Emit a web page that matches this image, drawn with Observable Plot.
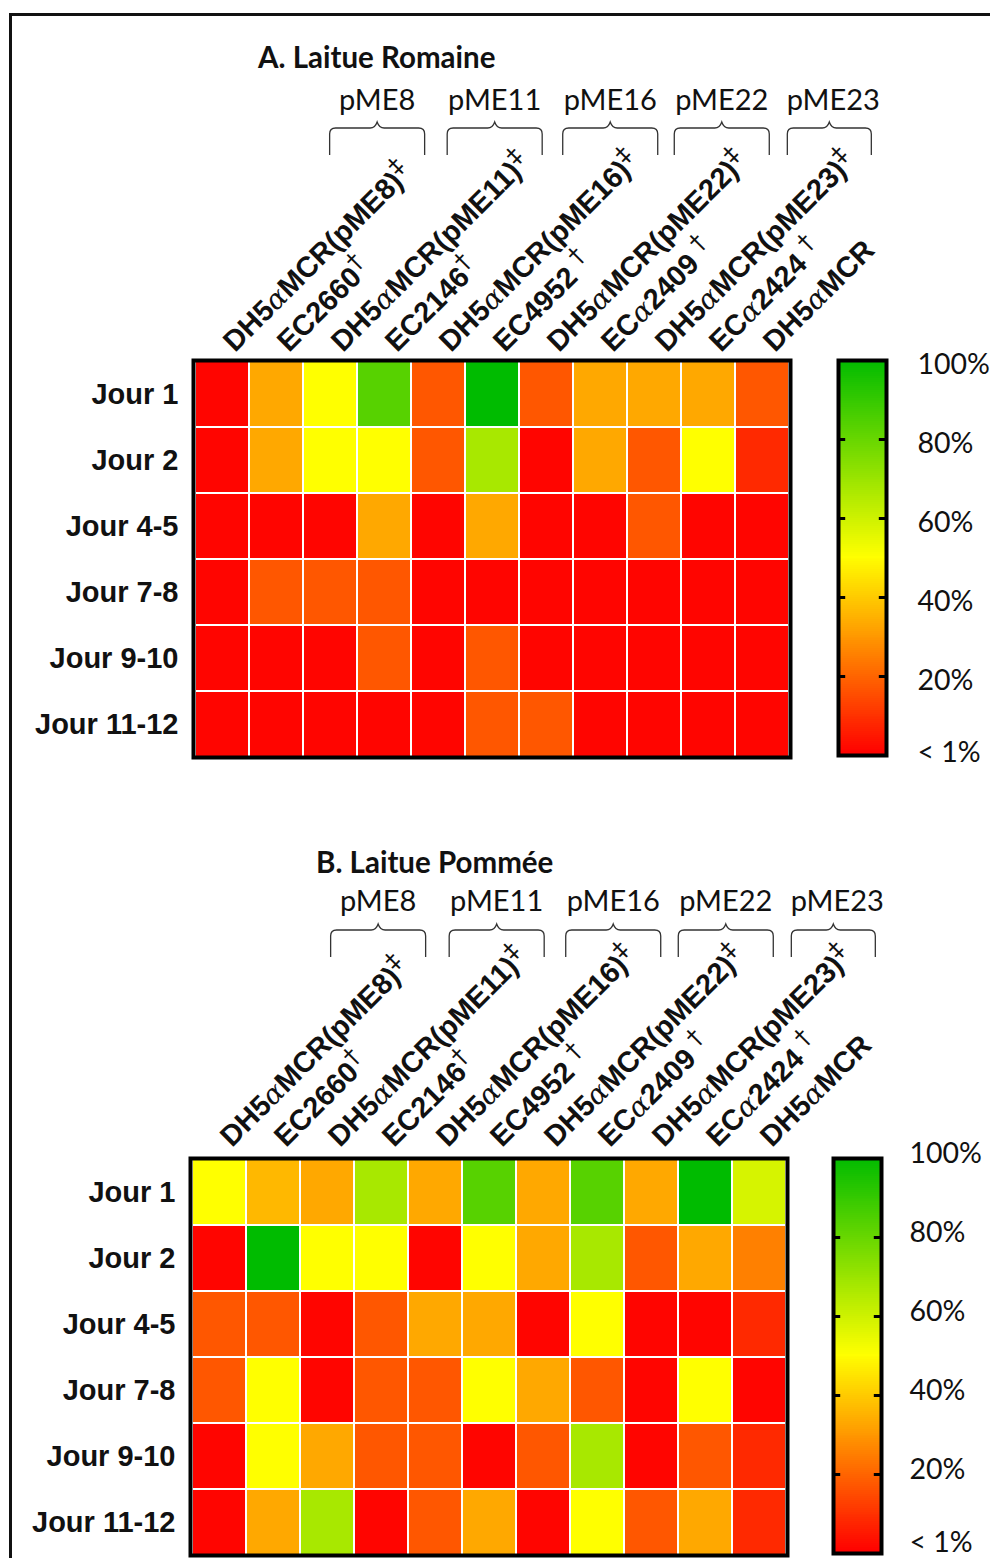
<!DOCTYPE html>
<html><head><meta charset="utf-8">
<script src="https://cdn.jsdelivr.net/npm/d3@7"></script>
<script src="https://cdn.jsdelivr.net/npm/@observablehq/plot@0.6"></script>
<style>
body{margin:0;background:#fff;}
#root{position:relative;width:990px;height:1558px;overflow:hidden;background:#fff;}
.frame{position:absolute;left:9px;top:13px;width:1010px;height:1620px;border:3px solid #111;box-sizing:border-box;}
.title{position:absolute;font-family:Lato,"Open Sans",sans-serif;font-weight:bold;font-size:29.5px;color:#111;line-height:30px;white-space:nowrap;}
.abs{position:absolute;}
</style></head><body><div id="root"><div class="frame"></div></div>
<script>
// ---- data ----
const strains = ["DH5αMCR(pME8)‡","EC2660†","DH5αMCR(pME11)‡","EC2146†","DH5αMCR(pME16)‡","EC4952 †","DH5αMCR(pME22)‡","ECα2409 †","DH5αMCR(pME23)‡","ECα2424 †","DH5αMCR"];
const days = ["Jour 1","Jour 2","Jour 4-5","Jour 7-8","Jour 9-10","Jour 11-12"];
const plasmids = ["pME8","pME11","pME16","pME22","pME23"];
const titles = ["A. Laitue Romaine","B. Laitue Pommée"];
// % survival per day (rows) and strain (columns)
const romaine = [
  [1, 33, 50, 83, 17, 100, 17, 33, 33, 33, 17],
  [1, 33, 50, 50, 17, 67, 1, 33, 17, 50, 8],
  [1, 1, 1, 33, 1, 33, 1, 1, 17, 1, 1],
  [1, 17, 17, 17, 1, 1, 1, 1, 1, 1, 1],
  [1, 1, 1, 17, 1, 17, 1, 1, 1, 1, 1],
  [1, 1, 1, 1, 1, 17, 17, 1, 1, 1, 1]
];
const pommee = [
  [50, 36, 33, 67, 33, 83, 33, 83, 33, 100, 58],
  [1, 100, 50, 50, 1, 50, 33, 67, 17, 33, 25],
  [17, 17, 1, 17, 33, 33, 1, 50, 1, 1, 8],
  [17, 50, 1, 17, 17, 50, 33, 17, 1, 50, 1],
  [1, 50, 33, 17, 17, 1, 17, 67, 1, 17, 8],
  [1, 33, 67, 1, 17, 33, 1, 50, 17, 33, 8]
];
const legendTicks = [100, 80, 60, 40, 20];
const legendLabels = ["100%", "80%", "60%", "40%", "20%"];
const legendBottom = [0];
const legendBottomLabel = ["< 1%"];
const innerTicks = [20, 40, 60, 80];

// ---- styling ----
const colorScale = {type: "linear", domain: [0, 50, 100], range: ["#ff0000", "#ffff00", "#00bb00"], interpolate: "rgb"};
const sansBold = '"Liberation Sans", Arial, sans-serif';
const calibri = 'Lato, "Open Sans", sans-serif';

const root = document.getElementById("root");

function heatmap(values, cfg) {
  const data = [];
  days.forEach((d, i) => strains.forEach((s, j) => data.push({day: d, strain: s, v: values[i][j]})));
  const plot = Plot.plot({
    width: 800, height: 762, marginLeft: 193, marginRight: 10, marginTop: 360, marginBottom: 5,
    style: {fontFamily: sansBold, background: "transparent", color: "#111", overflow: "visible"},
    x: {domain: strains, padding: 0, axis: null},
    y: {domain: days, padding: 0, label: null},
    color: colorScale,
    marks: [
      Plot.cell(data, {x: "strain", y: "day", fill: "v", inset: 1}),
      Plot.frame({stroke: "#000", strokeWidth: 4}),
      Plot.axisY({tickSize: 0, tickPadding: 15, fontSize: 29, fontWeight: "bold", fill: "#111", label: null}),
      Plot.text(strains, {x: d => d, text: d => d, frameAnchor: "top", dx: -2, dy: cfg.colDy, rotate: -45,
        textAnchor: "start", fontSize: 29, fontWeight: "bold", fill: "#111", className: "collab"})
    ]
  });
  // rich text for column labels: serif italic alpha, superscript daggers
  d3.select(plot).selectAll(".collab text").each(function() {
    const s = this.textContent;
    const el = d3.select(this);
    el.text(null);
    const last = s.slice(-1);
    const sup = (last === "‡" || last === "†") ? last : null;
    const body = sup ? s.slice(0, -1) : s;
    body.split("α").forEach((p, i) => {
      if (i > 0) el.append("tspan").attr("font-family", '"DejaVu Serif", serif').attr("font-style", "italic")
        .attr("font-weight", "normal").attr("font-size", 28).text("α");
      if (p) el.append("tspan").text(p);
    });
    if (sup) el.append("tspan").attr("font-family", '"DejaVu Sans", sans-serif').attr("font-size", 24)
      .attr("font-weight", "normal").attr("dy", "-0.45em").text(sup);
  });
  // plasmid groups with braces
  const xs = plot.scale("x");
  const band = d3.scaleBand(xs.domain, xs.range).padding(0);
  const bw = band.bandwidth();
  const svg = d3.select(plot);
  const g = svg.append("g");
  plasmids.forEach((p, k) => {
    const cx = band(strains[2 * k]) + bw / 2 + cfg.shifts[k];
    const w = cfg.half[k];
    const T = cfg.braceY, B = T + 27;
    const path = `M${cx - w},${B} L${cx - w},${T + 6} Q${cx - w},${T} ${cx - w + 6},${T} L${cx - 7},${T} Q${cx - 2},${T} ${cx},${T - 6} Q${cx + 2},${T} ${cx + 7},${T} L${cx + w - 6},${T} Q${cx + w},${T} ${cx + w},${T + 6} L${cx + w},${B}`;
    g.append("path").attr("d", path).attr("fill", "none").attr("stroke", "#333").attr("stroke-width", 1.3);
    g.append("text").attr("x", cx + (k === 4 ? 4 : 0)).attr("y", cfg.labelY).attr("text-anchor", "middle")
      .attr("font-family", calibri).attr("font-size", 29).attr("font-weight", "normal").attr("fill", "#111").text(p);
  });
  plot.classList.add("abs");
  plot.style.left = cfg.left + "px";
  plot.style.top = cfg.top + "px";
  root.appendChild(plot);
}

function colorbar(cfg) {
  const steps = d3.range(0, 100, 0.5);
  const plot = Plot.plot({
    width: 165, height: 405, marginLeft: 4, marginRight: 113, marginTop: 4, marginBottom: 6,
    x: {domain: [0, 1], axis: null}, y: {domain: [0, 100], axis: null},
    color: colorScale,
    style: {fontFamily: calibri, background: "transparent", overflow: "visible"},
    marks: [
      Plot.rect(steps, {x1: 0, x2: 1, y1: d => d, y2: d => Math.min(100, d + 0.7), fill: d => d, shapeRendering: "crispEdges"}),
      Plot.ruleY(innerTicks, {x1: 0, x2: 0.15, stroke: "#000", strokeWidth: 3}),
      Plot.ruleY(innerTicks, {x1: 0.85, x2: 1, stroke: "#000", strokeWidth: 3}),
      Plot.frame({stroke: "#000", strokeWidth: 4}),
      Plot.text(legendTicks, {x: 1, y: d => d, text: (d, i) => legendLabels[i], dx: cfg.labelDx, dy: cfg.labelDy,
        textAnchor: "start", fontSize: 28.5, fill: "#111"}),
      Plot.text(legendBottom, {x: 1, y: d => d, text: (d, i) => legendBottomLabel[i], dx: cfg.labelDx, dy: cfg.bottomDy,
        textAnchor: "start", fontSize: 28.5, fill: "#111"})
    ]
  });
  plot.classList.add("abs");
  plot.style.left = cfg.left + "px";
  plot.style.top = cfg.top + "px";
  root.appendChild(plot);
}

function title(text, left, top) {
  const d = document.createElement("div");
  d.className = "title";
  d.textContent = text;
  d.style.left = left + "px";
  d.style.top = top + "px";
  root.appendChild(d);
}

title(titles[0], 258, 42);
heatmap(romaine, {left: 0, top: 0, colDy: -22, shifts: [157, 166, 173, 176, 175], half: [47.5, 47.5, 47.5, 47.5, 42], braceY: 128, labelY: 110});
colorbar({left: 834, top: 356, labelDx: 31, labelDy: 4, bottomDy: -3});

title(titles[1], 316, 847);
heatmap(pommee, {left: -3, top: 798, colDy: -25, shifts: [161, 171, 179, 183, 182], half: [47.5, 47.5, 47.5, 47.5, 42], braceY: 132, labelY: 113});
colorbar({left: 829, top: 1154, labelDx: 28, labelDy: -5, bottomDy: -11});
</script></body></html>
